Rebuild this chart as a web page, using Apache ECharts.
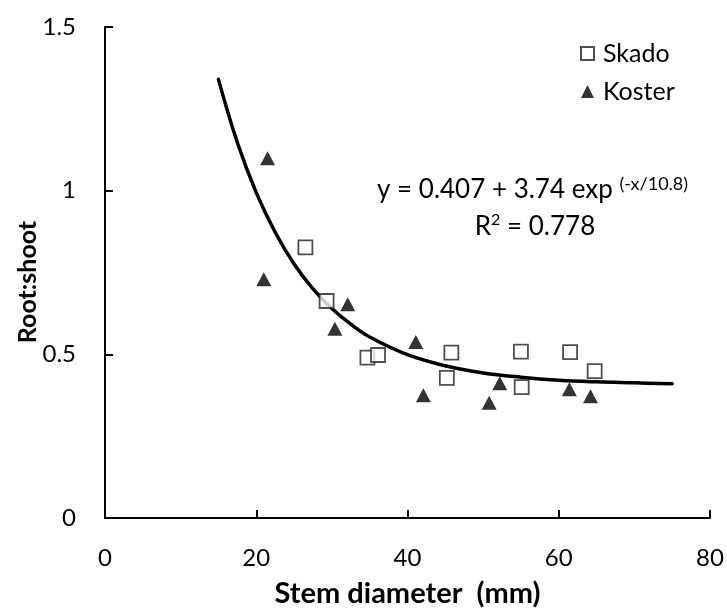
<!DOCTYPE html>
<html><head><meta charset="utf-8">
<script src="https://cdn.jsdelivr.net/npm/echarts@6/dist/echarts.min.js"></script>
<style>html,body{margin:0;padding:0;background:#fff}#c{width:727px;height:613px}</style>
</head><body><div id="c"></div>
<script>
// Skado (open squares)
const skadoX = [26.5, 29.3, 34.7, 36.1, 45.2, 45.8, 55.0, 55.1, 61.5, 64.75];
const skadoY = [0.827, 0.663, 0.490, 0.498, 0.428, 0.505, 0.508, 0.400, 0.507, 0.449];
// Koster (filled triangles)
const kosterX = [21.0, 21.5, 30.4, 32.1, 41.1, 42.1, 50.8, 52.2, 61.4, 64.2];
const kosterY = [0.729, 1.099, 0.578, 0.653, 0.538, 0.375, 0.352, 0.412, 0.393, 0.372];
// Fitted curve read along its path
const fitX = [15, 17.5, 20, 22.5, 25, 27.5, 30, 32.5, 35, 40, 45, 50, 55, 60, 65, 70, 75];
const fitY = [1.340, 1.147, 0.994, 0.873, 0.776, 0.700, 0.640, 0.592, 0.553, 0.499, 0.465, 0.443, 0.430, 0.421, 0.416, 0.413, 0.410];
const xTicks = [0, 20, 40, 60, 80];
const yTicks = [0, 0.5, 1, 1.5];

const FONT = 'Lato, "Open Sans", sans-serif';
const zip = (a, b) => a.map((v, i) => [v, b[i]]);
const chart = echarts.init(document.getElementById('c'), null, {renderer: 'canvas'});
chart.setOption({
  animation: false,
  grid: {left: 105, right: 17, top: 27, bottom: 92, containLabel: false},
  xAxis: {
    type: 'value', min: xTicks[0], max: xTicks[xTicks.length - 1], interval: 20,
    name: 'Stem diameter  (mm)', nameLocation: 'middle', nameGap: 61,
    nameTextStyle: {fontFamily: FONT, fontSize: 29, fontWeight: 'bold', color: '#000'},
    axisLine: {lineStyle: {color: '#000', width: 2}},
    axisTick: {inside: true, length: 8, lineStyle: {color: '#000', width: 2}},
    axisLabel: {fontFamily: FONT, fontSize: 24, color: '#000', margin: 28},
    splitLine: {show: false}
  },
  yAxis: {
    type: 'value', min: yTicks[0], max: yTicks[yTicks.length - 1], interval: 0.5,
    axisLine: {show: true, lineStyle: {color: '#000', width: 2}},
    axisTick: {show: true, inside: true, length: 8, lineStyle: {color: '#000', width: 2}},
    axisLabel: {fontFamily: FONT, fontSize: 24, color: '#000', margin: 29},
    splitLine: {show: false}
  },
  legend: {
    orient: 'vertical', left: 575, top: 36, itemGap: 13,
    itemWidth: 13, itemHeight: 13,
    textStyle: {fontFamily: FONT, fontSize: 25, color: '#000', padding: [0, 0, 0, 4]},
    data: ['Skado', 'Koster']
  },
  graphic: [
    {type: 'text', x: 28, y: 282, rotation: Math.PI / 2,
     style: {text: 'Root:shoot', fontFamily: FONT, fontSize: 25, fontWeight: 'bold', fill: '#000', align: 'center', verticalAlign: 'middle'}},
    {type: 'text', x: 377, y: 190,
     style: {rich: {a: {fontFamily: FONT, fontSize: 26, fill: '#000', lineHeight: 30}, s: {fontFamily: FONT, fontSize: 18, fill: '#000', verticalAlign: 'top', padding: [0, 0, 12, 0]}},
             text: '{a|y = 0.407 + 3.74 exp }{s|(-x/10.8)}', align: 'left', verticalAlign: 'middle'}},
    {type: 'text', x: 535, y: 227,
     style: {rich: {a: {fontFamily: FONT, fontSize: 26, fill: '#000', lineHeight: 30}, s: {fontFamily: FONT, fontSize: 16, fill: '#000', verticalAlign: 'top', padding: [0, 0, 10, 0]}},
             text: '{a|R}{s|2}{a| = 0.778}', align: 'center', verticalAlign: 'middle'}}
  ],
  series: [
    {name: 'fit', type: 'line', data: zip(fitX, fitY), smooth: 0.4, showSymbol: false, symbol: 'none',
     lineStyle: {color: '#000', width: 3.5, cap: 'round'}, z: 1, silent: true},
    {name: 'Skado', type: 'scatter', data: zip(skadoX, skadoY), symbol: 'rect', symbolSize: 14,
     itemStyle: {color: '#fff', borderColor: '#222', borderWidth: 1.8}, z: 3},
    {name: 'Koster', type: 'scatter', data: zip(kosterX, kosterY), symbol: 'triangle', symbolSize: [15, 14],
     itemStyle: {color: '#000'}, z: 3}
  ]
});
</script></body></html>
